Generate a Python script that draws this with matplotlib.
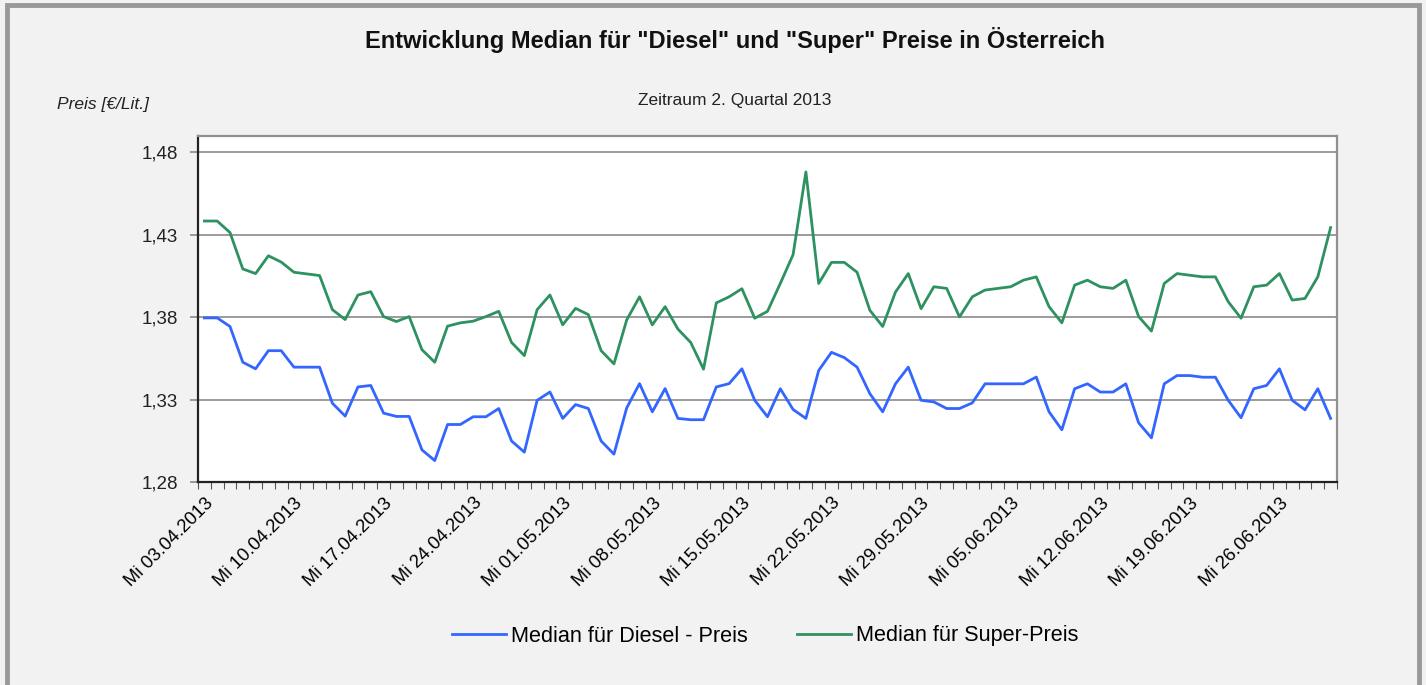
import numpy as np
import matplotlib
matplotlib.use("Agg")
import matplotlib.pyplot as plt
from matplotlib.patches import Rectangle
import datetime as dt

plt.rcParams['font.family'] = ['Liberation Sans', 'DejaVu Sans']

# Daily medians, 03.04.2013 - 30.06.2013 (89 days)
start = dt.date(2013, 4, 3)
n_days = 89
dates = [start + dt.timedelta(days=k) for k in range(n_days)]

diesel = [1.3796, 1.3796, 1.3744, 1.3527, 1.3487, 1.3597, 1.3597, 1.3497, 1.3497, 1.3497,
          1.3278, 1.3200, 1.3377, 1.3386, 1.3218, 1.3198, 1.3198, 1.2995, 1.2930, 1.3149,
          1.3149, 1.3196, 1.3196, 1.3246, 1.3049, 1.2981, 1.3296, 1.3346, 1.3186, 1.3270,
          1.3246, 1.3049, 1.2969, 1.3250, 1.3397, 1.3226, 1.3367, 1.3186, 1.3178, 1.3178,
          1.3377, 1.3397, 1.3487, 1.3296, 1.3196, 1.3366, 1.3240, 1.3186, 1.3477, 1.3587,
          1.3555, 1.3497, 1.3336, 1.3226, 1.3396, 1.3497, 1.3296, 1.3286, 1.3246, 1.3246,
          1.3280, 1.3396, 1.3396, 1.3396, 1.3396, 1.3437, 1.3226, 1.3117, 1.3366, 1.3396,
          1.3346, 1.3346, 1.3396, 1.3159, 1.3068, 1.3396, 1.3446, 1.3446, 1.3436, 1.3436,
          1.3296, 1.3190, 1.3366, 1.3386, 1.3487, 1.3296, 1.3238, 1.3366, 1.3186]

super_ = [1.4384, 1.4384, 1.4314, 1.4093, 1.4065, 1.4173, 1.4135, 1.4073, 1.4063, 1.4053,
          1.3846, 1.3786, 1.3935, 1.3955, 1.3804, 1.3774, 1.3804, 1.3603, 1.3527, 1.3746,
          1.3766, 1.3776, 1.3804, 1.3836, 1.3647, 1.3567, 1.3846, 1.3935, 1.3754, 1.3854,
          1.3816, 1.3597, 1.3517, 1.3784, 1.3924, 1.3754, 1.3864, 1.3728, 1.3647, 1.3485,
          1.3887, 1.3924, 1.3973, 1.3794, 1.3836, 1.4005, 1.4180, 1.4682, 1.4005, 1.4133,
          1.4133, 1.4073, 1.3842, 1.3744, 1.3953, 1.4065, 1.3852, 1.3985, 1.3975, 1.3802,
          1.3924, 1.3965, 1.3975, 1.3985, 1.4025, 1.4045, 1.3864, 1.3766, 1.3995, 1.4025,
          1.3985, 1.3975, 1.4025, 1.3804, 1.3716, 1.4005, 1.4065, 1.4055, 1.4045, 1.4045,
          1.3894, 1.3794, 1.3985, 1.3995, 1.4065, 1.3904, 1.3914, 1.4045, 1.4344]

y_ticks = [1.28, 1.33, 1.38, 1.43, 1.48]
y_tick_labels = ['1,28', '1,33', '1,38', '1,43', '1,48']

bg = '#f2f2f2'
fig = plt.figure(figsize=(14.26, 6.85), dpi=100, facecolor=bg)
W, H = 1426, 685
ax = fig.add_axes([198 / W, 1 - 482 / H, (1337 - 198) / W, (482 - 136) / H])
ax.set_facecolor('white')

x = np.arange(n_days)
ax.plot(x, diesel, color='#3366ff', lw=2.0, label='Median für Diesel - Preis')
ax.plot(x, super_, color='#2e9160', lw=2.0, label='Median für Super-Preis')

ax.set_xlim(-0.5, n_days - 0.5)
ax.set_ylim(1.28, 1.49)

ax.set_yticks(y_ticks)
ax.set_yticklabels(y_tick_labels, fontsize=13.5, color='#222222')
ax.yaxis.grid(True, color='#808080', lw=1.1)
ax.set_axisbelow(True)
ax.tick_params(axis='y', length=5.8, width=1.1, color='#808080', pad=8.5)

# category boundary ticks + weekly labels
ax.set_xticks(np.arange(-0.5, n_days, 1.0), minor=True)
ax.tick_params(axis='x', which='minor', length=5, width=0.8, color='#555555')
label_pos = x[::7]
ax.set_xticks(label_pos)
ax.set_xticklabels(['Mi ' + dates[k].strftime('%d.%m.%Y') for k in label_pos],
                   rotation=45, ha='right', va='top', rotation_mode='anchor', fontsize=13.3)
ax.tick_params(axis='x', which='major', length=0, pad=9)

for side in ['left', 'bottom']:
    ax.spines[side].set_color('#222222')
    ax.spines[side].set_linewidth(1.6)
for side in ['top', 'right']:
    ax.spines[side].set_color('#909090')
    ax.spines[side].set_linewidth(1.6)

fig.text(735 / W, 1 - 40 / H, 'Entwicklung Median für "Diesel" und "Super" Preise in Österreich',
         ha='center', va='center', fontsize=17, fontweight='bold', color='#111111')
fig.text(735 / W, 1 - 101 / H, 'Zeitraum 2. Quartal 2013', ha='center', va='center',
         fontsize=12.5, color='#222222')
fig.text(57 / W, 1 - 104 / H, 'Preis [€/Lit.]', ha='left', va='center',
         fontsize=12.5, style='italic', color='#222222')

fig.legend(loc='center', bbox_to_anchor=(765 / W, 1 - 636 / H), ncol=2, frameon=False,
           fontsize=15.6, handlelength=2.5, columnspacing=2.25, handletextpad=0.23)

# outer frame
fig.patches.append(Rectangle((6.5 / W, -0.05), (1419 - 6.5) / W, 1.05 - 5 / H,
                             transform=fig.transFigure, fill=False,
                             edgecolor='#999999', lw=3.5, clip_on=False))

fig.savefig('out.png', dpi=100, facecolor=bg)
